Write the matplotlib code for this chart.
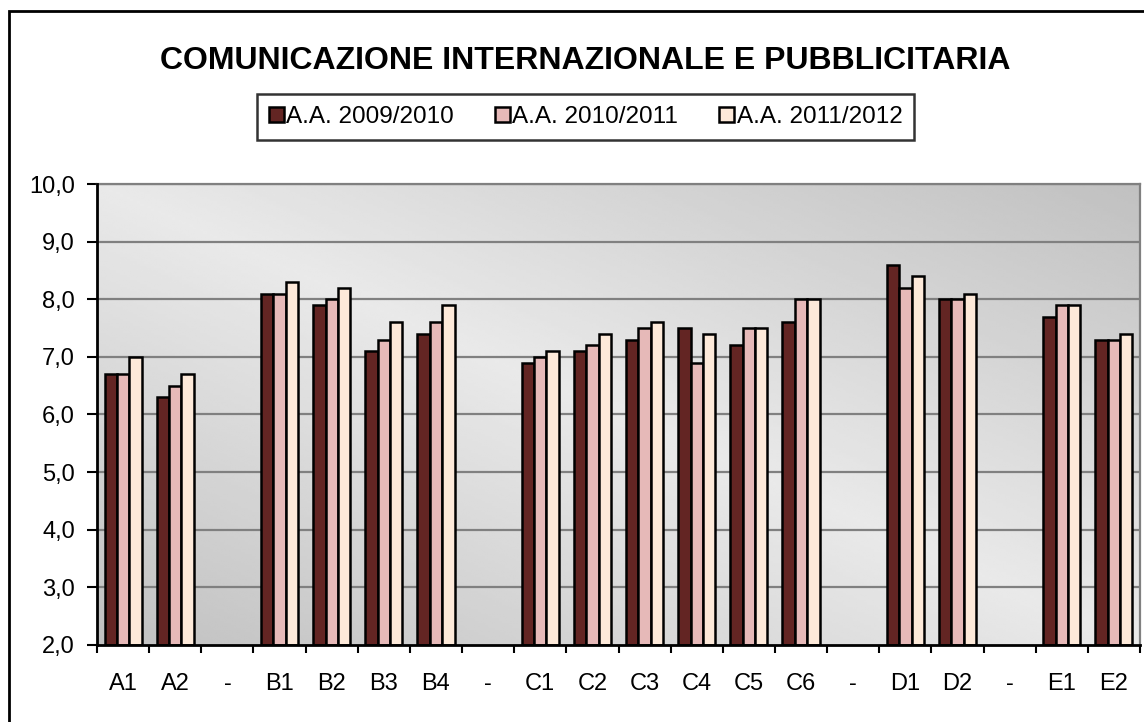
import numpy as np
import matplotlib.pyplot as plt
from matplotlib.patches import Rectangle
from matplotlib.ticker import FuncFormatter

plt.rcParams['font.family'] = ['Liberation Sans', 'DejaVu Sans']

categories = ['A1', 'A2', '-', 'B1', 'B2', 'B3', 'B4', '-', 'C1', 'C2', 'C3',
              'C4', 'C5', 'C6', '-', 'D1', 'D2', '-', 'E1', 'E2']
aa_0910 = [6.7, 6.3, None, 8.1, 7.9, 7.1, 7.4, None, 6.9, 7.1, 7.3,
           7.5, 7.2, 7.6, None, 8.6, 8.0, None, 7.7, 7.3]
aa_1011 = [6.7, 6.5, None, 8.1, 8.0, 7.3, 7.6, None, 7.0, 7.2, 7.5,
           6.9, 7.5, 8.0, None, 8.2, 8.0, None, 7.9, 7.3]
aa_1112 = [7.0, 6.7, None, 8.3, 8.2, 7.6, 7.9, None, 7.1, 7.4, 7.6,
           7.4, 7.5, 8.0, None, 8.4, 8.1, None, 7.9, 7.4]
series_names = ['A.A. 2009/2010', 'A.A. 2010/2011', 'A.A. 2011/2012']
colors = ['#632523', '#e6b9b8', '#fde9d9']
title = 'COMUNICAZIONE INTERNAZIONALE E PUBBLICITARIA'

fig = plt.figure(figsize=(11.44, 7.22), dpi=100)
ax = fig.add_axes([0.0848, 0.107, 0.9117, 0.638])

n = len(categories)
x = np.arange(n)
w = 0.237
ymin, ymax = 2, 10

# diagonal gradient background (dark at top-right / bottom-left)
u, v = np.meshgrid(np.linspace(0, 1, 300), np.linspace(1, 0, 200))
t = np.abs(u + v - 1)
light, dark = 0.915, 0.755
bg = light - (light - dark) * t
ax.imshow(bg, cmap='gray', vmin=0, vmax=1, aspect='auto',
          extent=(-0.5, n - 0.5, ymin, ymax), zorder=0, interpolation='bilinear')

for i, (vals, name, c) in enumerate(zip([aa_0910, aa_1011, aa_1112], series_names, colors)):
    h = np.array([np.nan if val is None else val for val in vals], dtype=float)
    ax.bar(x + (i - 1) * w, h - ymin, w, bottom=ymin, color=c, edgecolor='black',
           linewidth=1.8, label=name, zorder=3)

ax.set_xlim(-0.5, n - 0.5)
ax.set_ylim(ymin, ymax)
ax.set_yticks(np.arange(ymin, ymax + 1, 1))
ax.yaxis.set_major_formatter(FuncFormatter(lambda val, p: f'{val:.1f}'.replace('.', ',')))
for yv in range(3, 11):
    ax.axhline(yv, color='#808080', linewidth=1.6, zorder=1)

ax.set_xticks(np.arange(-0.5, n, 1))
ax.set_xticklabels([])
ax.set_xticks(x, minor=True)
ax.set_xticklabels(categories, minor=True)
ax.tick_params(axis='x', which='major', direction='out', length=6, width=1.5, color='black')
ax.tick_params(axis='x', which='minor', length=0, pad=20, labelsize=17)
ax.tick_params(axis='y', direction='out', length=7, width=1.5, labelsize=17, pad=9)

for s in ['left', 'bottom']:
    ax.spines[s].set_linewidth(2)
    ax.spines[s].set_color('black')
    ax.spines[s].set_zorder(5)
for s in ['top', 'right']:
    ax.spines[s].set_linewidth(1.6)
    ax.spines[s].set_color('#808080')

fig.text(0.512, 0.915, title, ha='center', va='center', fontsize=23, fontweight='bold')

leg = fig.legend(loc='center', bbox_to_anchor=(0.512, 0.838), ncol=3, fontsize=17.5,
                 frameon=True, fancybox=False, edgecolor='black', handlelength=0.6,
                 handleheight=0.6, handletextpad=0.1, columnspacing=1.7,
                 borderpad=0.5, borderaxespad=0)
leg.get_frame().set_linewidth(1.8)

# outer chart frame (cropped at right and bottom)
fig.add_artist(Rectangle((0.0079, -0.05), 1.1, 1.035,
                         transform=fig.transFigure, fill=False,
                         edgecolor='black', linewidth=2))

fig.savefig('out.png', dpi=100)
